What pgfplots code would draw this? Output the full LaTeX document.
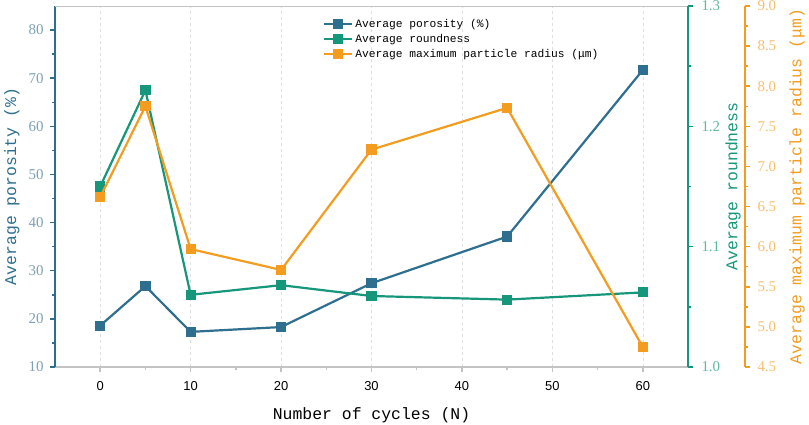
\documentclass[border=0pt]{standalone}
\usepackage{pgfplots}
\pgfplotsset{compat=1.18}
\usepackage{fontspec}
\setmainfont{Liberation Serif}
\newfontfamily\monof{Liberation Mono}
\newfontfamily\sansf{Liberation Sans}
\definecolor{cblue}{RGB}{46,110,142}
\definecolor{cgreen}{RGB}{22,150,122}
\definecolor{corange}{RGB}{243,156,31}
\definecolor{lblue}{RGB}{125,160,180}
\definecolor{lgreen}{RGB}{95,185,160}
\definecolor{lorange}{RGB}{246,190,110}
\definecolor{axgray}{RGB}{195,195,195}
\pgfplotsset{
  base/.style={width=633bp,height=361bp,scale only axis,xmin=-5,xmax=65,
    /pgf/number format/assume math mode=true, tick align=outside,
    major tick length=5bp, minor tick length=3bp},
  ser/.style={line width=2.2bp, mark=square*, mark size=4bp, mark options={solid}},
  legend image code/.code={\draw[mark repeat=2,mark phase=2] plot coordinates {(0cm,0cm) (0.5cm,0cm) (1.0cm,0cm)};},
}
\begin{document}
\begin{tikzpicture}
\path[use as bounding box] (-55bp,-58bp) rectangle (754bp,367bp);
% main axis: porosity
\begin{axis}[base, ymin=10, ymax=85,
  axis x line*=bottom, axis y line*=left,
  xtick={0,10,...,60}, minor x tick num=1,
  ytick={10,20,...,80}, minor y tick num=1,
  xmajorgrids, grid style={dashed, gray!25, line width=0.5bp},
  x axis line style={axgray, line width=2bp, -},
  y axis line style={cblue, line width=2.5bp, -},
  xtick style={axgray, line width=1.5bp},
  ytick style={cblue, line width=1.5bp},
  xticklabel style={font=\sansf\fontsize{13}{13}\selectfont, black, yshift=-6bp},
  yticklabel style={font=\fontsize{15}{15}\selectfont, lblue, xshift=-3bp},
  xlabel={Number of cycles (N)},
  xlabel style={font=\monof\fontsize{16.5}{17}\selectfont, black,
    at={(rel axis cs:0.5,0)}, anchor=center, yshift=-48bp},
  ylabel={Average porosity (\%)},
  ylabel style={font=\monof\fontsize{16.5}{17}\selectfont, cblue,
    at={([xshift=-43bp]rel axis cs:0,0.5)}, anchor=center},
  legend style={at={(rel axis cs:0.418,0.975)}, anchor=north west, draw=none, fill=none,
    font=\monof\fontsize{11.3}{13}\selectfont, row sep=1.5bp},
  legend cell align=left,
]
\draw[axgray, line width=2bp] (rel axis cs:0,1) -- (rel axis cs:1,1);
\addplot[ser, cblue] coordinates {(0,18.6) (5,26.8) (10,17.3) (20,18.3) (30,27.4) (45,37.1) (60,71.7)};
\addlegendimage{ser, cgreen}
\addlegendimage{ser, corange}
\legend{Average porosity (\%), Average roundness, Average maximum particle radius (μm)}
\end{axis}
% roundness
\begin{axis}[base, ymin=1.0, ymax=1.3,
  axis x line=none, axis y line*=right,
  ytick={1.0,1.1,1.2,1.3}, minor y tick num=1,
  y axis line style={cgreen, line width=2.5bp, -},
  ytick style={cgreen, line width=1.5bp},
  yticklabel style={font=\fontsize{15}{15}\selectfont, lgreen, xshift=5bp,
    /pgf/number format/.cd, fixed, fixed zerofill, precision=1},
  ylabel={Average roundness},
  ylabel style={font=\monof\fontsize{16.5}{17}\selectfont, cgreen,
    at={([xshift=45bp]rel axis cs:1,0.5)}, anchor=center},
]
\addplot[ser, cgreen] coordinates {(0,1.150) (5,1.230) (10,1.060) (20,1.068) (30,1.059) (45,1.056) (60,1.062)};
\end{axis}
% particle radius data
\begin{axis}[base, ymin=4.5, ymax=9.0, hide axis]
\addplot[ser, corange] coordinates {(0,6.62) (5,7.75) (10,5.97) (20,5.71) (30,7.21) (45,7.73) (60,4.75)};
\end{axis}
% particle radius axis
\begin{axis}[base, xshift=57bp, ymin=4.5, ymax=9.0,
  axis x line=none, axis y line*=right,
  ytick={4.5,5.0,...,9.0}, minor y tick num=1,
  y axis line style={corange, line width=2.5bp, -},
  ytick style={corange, line width=1.5bp},
  yticklabel style={font=\fontsize{15}{15}\selectfont, lorange, xshift=4bp,
    /pgf/number format/.cd, fixed, fixed zerofill, precision=1},
  ylabel={Average maximum particle radius (μm)},
  ylabel style={font=\monof\fontsize{16.5}{17}\selectfont, corange,
    at={([xshift=52bp]rel axis cs:1,0.5)}, anchor=center},
]
\end{axis}
\end{tikzpicture}
\end{document}
